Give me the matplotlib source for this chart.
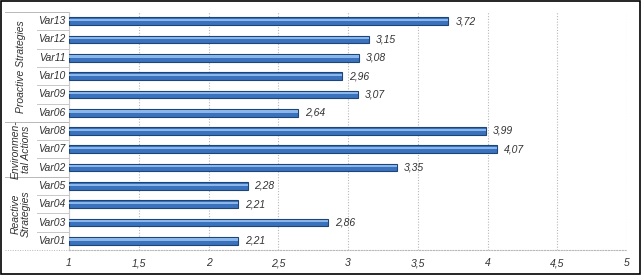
import matplotlib.pyplot as plt
import matplotlib.transforms as mtransforms
from matplotlib.patches import Rectangle

# data, bottom to top
variables = ["Var01", "Var03", "Var04", "Var05", "Var02", "Var07", "Var08",
             "Var06", "Var09", "Var10", "Var11", "Var12", "Var13"]
values = [2.21, 2.86, 2.21, 2.28, 3.35, 4.07, 3.99,
          2.64, 3.07, 2.96, 3.08, 3.15, 3.72]
groups = ["Reactive\nStrategies", "Environmen-\ntal Actions", "Proactive Strategies"]
group_sizes = [4, 3, 6]
xticks = [1, 1.5, 2, 2.5, 3, 3.5, 4, 4.5, 5]

plt.rcParams['font.family'] = ['Liberation Sans', 'DejaVu Sans']

fig = plt.figure(figsize=(6.41, 2.75), dpi=100)
ax = fig.add_axes([69/641, 1-250/275, 558/641, 238/275])

ypos = list(range(len(variables)))
widths = [v - 1 for v in values]
ax.barh(ypos, widths, left=1, height=0.42, color='#3a72bd',
        edgecolor='#1d4578', linewidth=0.8, zorder=3)
# highlight stripe for the shaded look
ax.barh([y + 0.07 for y in ypos], widths, left=1, height=0.12,
        color='#8ab6ea', linewidth=0, zorder=4)

for y, v in zip(ypos, values):
    ax.text(v + 0.05, y, f"{v:.2f}".replace('.', ','), va='center', ha='left',
            fontsize=7.5, style='italic', color='#333333')

ax.set_xlim(1, 5)
ax.set_ylim(-0.5, len(variables) - 0.5)
ax.set_xticks(xticks)
ax.set_xticklabels([f"{t:g}".replace('.', ',') for t in xticks],
                   fontsize=7.5, style='italic', color='#333333')
ax.set_yticks([])
ax.tick_params(axis='x', length=0, pad=6)
ax.grid(axis='x', color='#b8b8b8', linestyle=(0, (1, 1.5)), linewidth=0.8, zorder=0)
for s in ['top', 'right']:
    ax.spines[s].set_visible(False)
ax.spines['left'].set_color('#c8c8c8')
ax.spines['left'].set_linewidth(0.8)
ax.spines['bottom'].set_color('#b8b8b8')
ax.spines['bottom'].set_linestyle((0, (1, 1.5)))

trans = mtransforms.blended_transform_factory(ax.transAxes, ax.transData)
x_far = -64/558
x_mid = -32/558
# category labels and separators
for y, name in zip(ypos, variables):
    ax.text(-17/558, y, name, transform=trans, ha='center', va='center',
            fontsize=7.5, style='italic', color='#333333')
for y in ypos[1:]:
    ax.plot([x_mid, 0], [y - 0.5, y - 0.5], transform=trans, color='#c8c8c8',
            linewidth=0.7, clip_on=False)
# group labels and separators
start = 0
bounds = [-0.5]
for g, n in zip(groups, group_sizes):
    c = start + (n - 1) / 2
    ax.text(-48/558, c, g, transform=trans, ha='center', va='center',
            rotation=90, fontsize=7.5, style='italic', color='#333333',
            linespacing=1.0)
    start += n
    bounds.append(start - 0.5)
for b in bounds:
    ax.plot([x_far, 0], [b, b], transform=trans, color='#b8b8b8',
            linewidth=0.7, linestyle=(0, (1, 1.5)) if b == -0.5 else '-',
            clip_on=False)

fig.patches.append(Rectangle((0.001, 0.002), 0.997, 0.995, transform=fig.transFigure,
                             fill=False, edgecolor='black', linewidth=1.2))

fig.savefig("out.png", dpi=100)
